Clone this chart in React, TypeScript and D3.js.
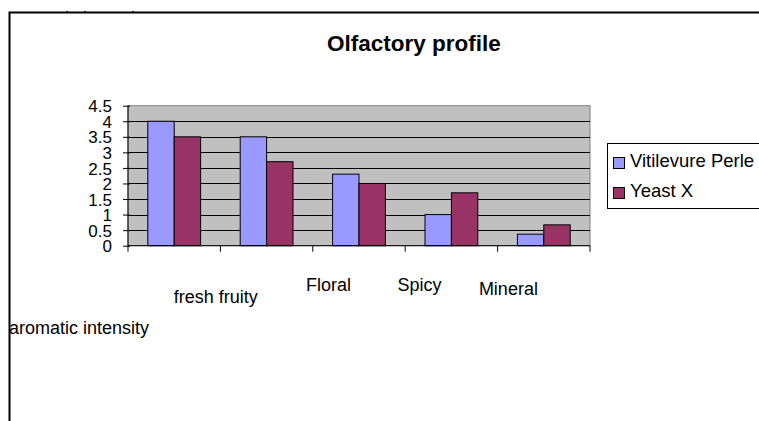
import React, { useRef, useEffect } from "react";
import * as d3 from "d3";

const categories = ["fresh fruity", "Floral", "Spicy", "Mineral", ""];
const seriesNames = ["Vitilevure Perle", "Yeast X"];
const vitilevurePerle = [4.0, 3.5, 2.3, 1.0, 0.37];
const yeastX = [3.5, 2.7, 2.0, 1.7, 0.67];
const yTicks = [0, 0.5, 1, 1.5, 2, 2.5, 3, 3.5, 4, 4.5];
const yTitle = "aromatic intensity";
const chartTitle = "Olfactory profile";

const colors = ["#9999FF", "#993366"];
// the category labels sit oddly staggered in the original
const labelShift = [
  { dx: 41.6, y: 302.7 },
  { dx: 61.8, y: 290.7 },
  { dx: 60.5, y: 290.7 },
  { dx: 57, y: 295 },
  { dx: 0, y: 295 },
];

const App = () => {
  const ref = useRef<SVGSVGElement | null>(null);

  useEffect(() => {
    const width = 759;
    const height = 421;
    const font = "'Liberation Sans', Arial, sans-serif";
    const svg = d3.select(ref.current);
    svg.selectAll("*").remove();
    svg.attr("width", width).attr("height", height);

    // axis title peeking out above the chart frame
    svg
      .append("text")
      .attr("x", 9)
      .attr("y", 23.5)
      .attr("font-family", font)
      .attr("font-size", 18)
      .text(yTitle);

    // chart area
    svg
      .append("rect")
      .attr("x", 9.5)
      .attr("y", 12.5)
      .attr("width", 800)
      .attr("height", 450)
      .attr("fill", "#fff")
      .attr("stroke", "#000")
      .attr("stroke-width", 2);

    svg
      .append("text")
      .attr("x", 414)
      .attr("y", 51)
      .attr("text-anchor", "middle")
      .attr("font-family", font)
      .attr("font-weight", "bold")
      .attr("font-size", 22.5)
      .text(chartTitle);

    const left = 128;
    const right = 590;
    const top = 105.7;
    const bottom = 245.7;

    const x0 = d3.scaleBand().domain(categories.map((c, i) => String(i))).range([left, right]);
    const x1 = d3
      .scaleBand()
      .domain(seriesNames)
      .range([0, x0.bandwidth()])
      .paddingInner(0)
      .paddingOuter(0.75);
    const y = d3.scaleLinear().domain([0, 4.5]).range([bottom, top]);

    svg
      .append("rect")
      .attr("x", left)
      .attr("y", top)
      .attr("width", right - left)
      .attr("height", bottom - top)
      .attr("fill", "#C0C0C0")
      .attr("stroke", "#808080")
      .attr("stroke-width", 1);

    // gridlines
    svg
      .append("g")
      .selectAll("line")
      .data(yTicks.filter((t) => t > 0 && t < 4.5))
      .enter()
      .append("line")
      .attr("x1", left)
      .attr("x2", right)
      .attr("y1", (d) => Math.round(y(d)) + 0.5)
      .attr("y2", (d) => Math.round(y(d)) + 0.5)
      .attr("stroke", "#000");

    // bars
    const values = [vitilevurePerle, yeastX];
    seriesNames.forEach((name, s) => {
      svg
        .append("g")
        .selectAll("rect")
        .data(values[s])
        .enter()
        .append("rect")
        .attr("x", (d, i) => (x0(String(i)) as number) + (x1(name) as number))
        .attr("y", (d) => y(d))
        .attr("width", x1.bandwidth())
        .attr("height", (d) => bottom - y(d))
        .attr("fill", colors[s])
        .attr("stroke", "#000")
        .attr("stroke-width", 1);
    });

    // y axis
    const yAxis = d3
      .axisLeft(y)
      .tickValues(yTicks)
      .tickSize(5)
      .tickFormat((d) => String(d));
    const gy = svg.append("g").attr("transform", `translate(${left},0)`).call(yAxis);
    gy.select(".domain").attr("stroke", "#000").attr("d", `M0,${top}V${bottom}`);
    gy.selectAll(".tick line").attr("x2", -5).attr("x1", 2).attr("stroke", "#000");
    gy.selectAll(".tick text")
      .attr("x", -16)
      .attr("dy", "0.36em")
      .attr("font-family", font)
      .attr("font-size", 17)
      .attr("fill", "#000");

    // x axis
    const xAxis = d3
      .axisBottom(x0)
      .tickSize(0)
      .tickFormat(() => "");
    const gx = svg.append("g").attr("transform", `translate(0,${bottom})`).call(xAxis);
    gx.select(".domain").attr("stroke", "#000").attr("d", `M${left},0H${right}`);
    gx.selectAll(".tick").remove();
    const bounds = categories.map((c, i) => x0(String(i)) as number).concat([right]);
    gx.selectAll("line.sep")
      .data(bounds)
      .enter()
      .append("line")
      .attr("class", "sep")
      .attr("x1", (d) => d)
      .attr("x2", (d) => d)
      .attr("y1", 0)
      .attr("y2", 6)
      .attr("stroke", "#000");

    svg
      .append("g")
      .selectAll("text")
      .data(categories)
      .enter()
      .append("text")
      .attr("x", (d, i) => (x0(String(i)) as number) + x0.bandwidth() / 2 + labelShift[i].dx)
      .attr("y", (d, i) => labelShift[i].y)
      .attr("text-anchor", "middle")
      .attr("font-family", font)
      .attr("font-size", 18)
      .text((d) => d);

    // y title that slipped below the axis
    svg
      .append("text")
      .attr("x", 9)
      .attr("y", 334)
      .attr("font-family", font)
      .attr("font-size", 18)
      .text(yTitle);

    // legend
    const lg = svg.append("g");
    lg.append("rect")
      .attr("x", 607.5)
      .attr("y", 143.5)
      .attr("width", 200)
      .attr("height", 65)
      .attr("fill", "#fff")
      .attr("stroke", "#000");
    seriesNames.forEach((name, s) => {
      const yy = 157.5 + s * 30;
      lg.append("rect")
        .attr("x", 613.5)
        .attr("y", yy)
        .attr("width", 11)
        .attr("height", 11)
        .attr("fill", colors[s])
        .attr("stroke", "#000");
      lg.append("text")
        .attr("x", 630)
        .attr("y", yy + 9.5)
        .attr("font-family", font)
        .attr("font-size", 18.5)
        .text(name);
    });

    return () => {
      svg.selectAll("*").remove();
    };
  }, []);

  return <svg ref={ref} style={{ position: "absolute", left: 0, top: 0 }} />;
};

export default App;
